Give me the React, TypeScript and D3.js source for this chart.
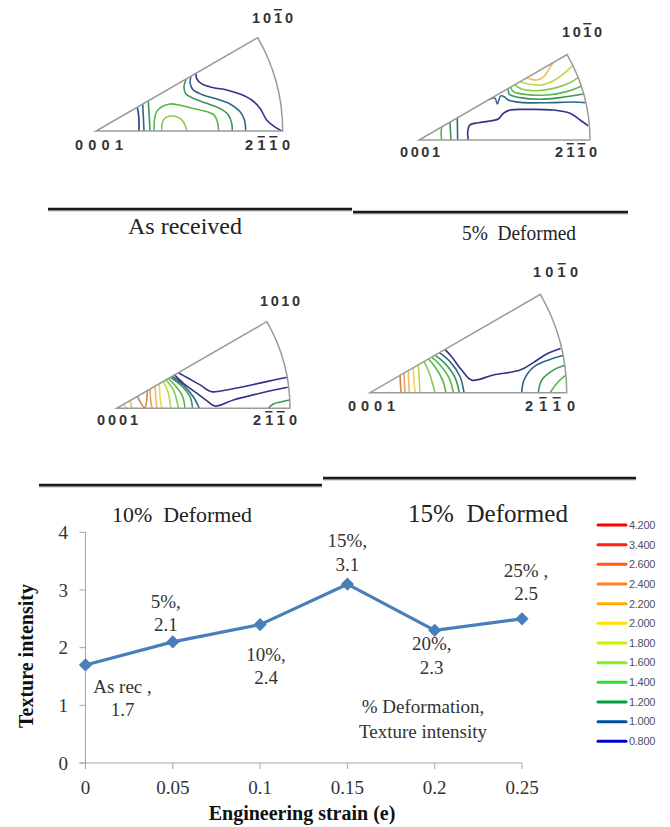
import React from 'react';
import * as d3 from 'd3';

// ---------- chart data ----------
const strain = [0, 0.05, 0.1, 0.15, 0.2, 0.25];
const intensity = [1.7, 2.1, 2.4, 3.1, 2.3, 2.5];
const deformationLabels = ['As rec ,', '5%,', '10%,', '15%,', '20%,', '25% ,'];
const valueLabels = ['1.7', '2.1', '2.4', '3.1', '2.3', '2.5'];
const xTicks = [0, 0.05, 0.1, 0.15, 0.2, 0.25];
const xTickLabels = ['0', '0.05', '0.1', '0.15', '0.2', '0.25'];
const yTicks = [0, 1, 2, 3, 4];
const legendLevels = ['4.200', '3.400', '2.600', '2.400', '2.200', '2.000', '1.800', '1.600', '1.400', '1.200', '1.000', '0.800'];
const legendColours = ['#ff0000', '#ff1f10', '#ff5a1a', '#ff8020', '#ffab00', '#ffe000', '#ccf000', '#80f020', '#30e030', '#00a040', '#0050a0', '#0000c8'];
const captions = ['As received', '5%  Deformed', '10%  Deformed', '15%  Deformed'];

// ---------- inverse pole figure contour data (u,v in % of radius) ----------
type Contour = { level: number; pts: [number, number][] };

const asReceivedContours: Contour[] = [
  { level: 0.8, pts: [[22.1, 12.8], [22.9, 7.7], [23, 0]] },
  { level: 1.0, pts: [[25, 14.4], [25.4, 7], [25.7, 0]] },
  { level: 1.2, pts: [[28, 16.2], [28.5, 8], [28.9, 0]] },
  { level: 1.6, pts: [[35.2, 0], [35.7, 5], [37.5, 7.3], [41.4, 8], [45, 6.8], [47.3, 4.1], [48.6, 0]] },
  { level: 1.4, pts: [[31.1, 0], [31.3, 5.9], [32.5, 10.4], [35.2, 13], [39.6, 14.5], [45, 13.8], [52.1, 12.1], [59.3, 10.4], [63.2, 8.6], [65, 5], [65.7, 0]] },
  { level: 1.2, pts: [[48.4, 28], [47.1, 23.4], [48.2, 19.8], [52.1, 17.5], [59.3, 14.8], [66.4, 12.1], [70.9, 8.6], [72.7, 4.1], [73, 0]] },
  { level: 1.0, pts: [[50.9, 29.4], [50.4, 25.9], [51.8, 22.3], [56.6, 19.6], [64.6, 17.1], [71.8, 14.5], [77.1, 10.4], [79.5, 5.9], [80.2, 0]] },
  { level: 0.8, pts: [[53.6, 30.9], [53.9, 28.2], [56.6, 25.2], [62.9, 23.2], [70, 22], [77.1, 19.8], [83.4, 16.6], [87.9, 12.1], [91.4, 5.9], [95, 2.7], [99.5, 0]] },
];

const deformed5Contours: Contour[] = [
  { level: 2.2, pts: [[63, 36.4], [68.8, 35.1], [73.1, 37], [76.2, 41.9], [78.6, 45.4]] },
  { level: 1.8, pts: [[59.1, 34.1], [63.9, 32.7], [71.7, 32.2], [79.5, 35.1], [85.4, 39.4], [90.3, 43.9]] },
  { level: 1.6, pts: [[56.1, 32.4], [59.1, 30.2], [66.9, 28.8], [78.6, 30.2], [88.3, 33.5], [93.2, 36.6]] },
  { level: 1.4, pts: [[53.6, 30.9], [55.2, 28.3], [62, 26.7], [74.7, 26.3], [86.4, 28.3], [95.1, 31.6]] },
  { level: 1.2, pts: [[52.2, 30.1], [52.8, 26.7], [59.1, 24.8], [70.8, 23.8], [82.5, 24.8], [96.1, 26.9]] },
  { level: 1.0, pts: [[41.1, 23.7], [44.4, 24.5], [45.8, 21.1], [47.8, 25.8], [50, 25.2], [52.2, 23.4], [59.1, 22], [74.7, 21.8], [90.3, 22.2], [98, 21.8]] },
  { level: 0.8, pts: [[28.8, 0], [28.5, 4.9], [29.8, 8.8], [34.7, 10.1], [41.5, 11.1], [46.4, 12.3], [49.3, 15.6], [53.2, 17.5], [63, 17.9], [78.6, 17.5], [88.3, 15.6], [94.2, 11.7], [99, 8.2]] },
  { level: 1.4, pts: [[13.3, 7.7], [12.9, 3.9], [13.3, 0]] },
  { level: 1.2, pts: [[18.1, 10.4], [18.4, 5], [18.7, 0]] },
  { level: 1.0, pts: [[22.4, 12.9], [22.5, 6], [22.6, 0]] },
];

const deformed10Contours: Contour[] = [
  { level: 2.0, pts: [[4.2, 2.4], [5.4, 0]] },
  { level: 2.2, pts: [[7.7, 4.4], [8.7, 0]] },
  { level: 2.6, pts: [[11.9, 6.9], [16.2, 0.4], [17.7, 10.2]] },
  { level: 2.4, pts: [[19.2, 11.1], [19.6, 4.8], [20.4, 0]] },
  { level: 2.2, pts: [[22.1, 12.8], [22.6, 6], [23.1, 0]] },
  { level: 2.0, pts: [[24.6, 14.2], [25, 6.7], [26, 0]] },
  { level: 1.8, pts: [[26.9, 15.5], [29.8, 8.7], [31.2, 0]] },
  { level: 1.6, pts: [[28.5, 16.4], [32.7, 10.6], [34.6, 4.8], [35.6, 0]] },
  { level: 1.4, pts: [[29.8, 17.2], [34.6, 12.1], [38.1, 6.7], [39.4, 0]] },
  { level: 1.2, pts: [[31, 17.9], [37.5, 12.9], [42.3, 6.7], [43.8, 0]] },
  { level: 1.0, pts: [[32, 18.5], [38.5, 13.3], [44.2, 6.7], [47.7, 0]] },
  { level: 0.8, pts: [[35.6, 20.5], [41.3, 17.3], [48.1, 13.5], [54.8, 9.6], [63.5, 10.6], [75, 12.9], [86.5, 15.4], [98.5, 17.9]] },
  { level: 0.8, pts: [[33.4, 19.3], [38.5, 14.4], [46.2, 8.7], [51.9, 4.4], [56.7, 1.3], [67.3, 4.8], [82.7, 8.7], [98.7, 12.1]] },
  { level: 1.2, pts: [[87.5, 0], [90.4, 2.5], [95.2, 3.8], [99.6, 4.8]] },
];

const deformed15Contours: Contour[] = [
  { level: 2.6, pts: [[15.3, 8.8], [15.5, 4], [15.8, 0]] },
  { level: 2.4, pts: [[17.3, 10], [17.5, 5], [17.8, 0]] },
  { level: 2.2, pts: [[19.5, 11.3], [19.7, 5], [20, 0]] },
  { level: 2.0, pts: [[22, 12.7], [22.4, 6], [22.9, 0]] },
  { level: 1.8, pts: [[24.6, 14.2], [25, 7], [25.4, 0]] },
  { level: 1.6, pts: [[27.5, 15.9], [30.5, 9], [33, 0]] },
  { level: 1.4, pts: [[29.7, 17.1], [33, 13.2], [36.9, 6.4], [38.6, 0]] },
  { level: 1.4, pts: [[31.4, 18.1], [35.6, 14.1], [40.3, 7.3], [42.4, 0]] },
  { level: 1.2, pts: [[33, 19.1], [38.1, 14.9], [43.2, 7.8], [45.4, 0]] },
  { level: 1.0, pts: [[35.3, 20.4], [40.7, 15.8], [45.8, 8.1], [47.8, 0]] },
  { level: 0.8, pts: [[38.1, 22], [41.5, 18.3], [46.6, 11.5], [51.7, 6.4], [62.7, 9], [76.3, 11.5], [83, 15.3], [89.8, 19.7], [96.9, 22.5]] },
  { level: 1.0, pts: [[77.1, 0], [78.3, 6.4], [83, 12.9], [91.5, 16.9], [98.3, 19]] },
  { level: 1.2, pts: [[85.6, 0], [87.3, 6.4], [93.2, 11.5], [99.2, 13.9]] },
  { level: 1.4, pts: [[91.5, 0], [95.3, 5.1], [99.7, 9]] },
];

// ---------- styling / layout ----------
const contourLevels = [0.8, 1.0, 1.2, 1.4, 1.6, 1.8, 2.0, 2.2, 2.4, 2.6, 3.4];
const contourColours = ['#33338a', '#2f6688', '#3a9656', '#55b847', '#8acb4e', '#c2d64c', '#ecd560', '#efbd5c', '#eba062', '#d5824c', '#b9643a'];
const contourColour = d3.scaleOrdinal<number, string>().domain(contourLevels).range(contourColours);

type Lbl = { x: number; y: number; w: number };
type Panel = {
  ox: number; oy: number; R: number; contours: Contour[];
  top: Lbl; left: Lbl; right: Lbl; bars: boolean;
};

const panels: Panel[] = [
  { ox: 96, oy: 131, R: 186.7, contours: asReceivedContours, top: { x: 252, y: 23, w: 41 }, left: { x: 75, y: 150, w: 48 }, right: { x: 245, y: 150, w: 45 }, bars: true },
  { ox: 419, oy: 140, R: 171, contours: deformed5Contours, top: { x: 562, y: 37, w: 40 }, left: { x: 400, y: 157, w: 40 }, right: { x: 555, y: 157, w: 42 }, bars: true },
  { ox: 116.7, oy: 408.3, R: 173.3, contours: deformed10Contours, top: { x: 260, y: 306, w: 40 }, left: { x: 97, y: 425, w: 41 }, right: { x: 253, y: 425, w: 44 }, bars: false },
  { ox: 370, oy: 392.7, R: 196.7, contours: deformed15Contours, top: { x: 533, y: 277, w: 45 }, left: { x: 348, y: 411, w: 47 }, right: { x: 525, y: 411, w: 50 }, bars: true },
];

const captionLayout = [
  { x: 128, y: 234, w: 114, size: 23 },
  { x: 462, y: 240, w: 114, size: 20 },
  { x: 112, y: 522, w: 140, size: 22 },
  { x: 408, y: 522, w: 160, size: 25 },
];
const ruleLayout = [
  { x1: 48, x2: 352, y: 209 },
  { x1: 353, x2: 628, y: 212 },
  { x1: 39, x2: 322, y: 485 },
  { x1: 323, x2: 636, y: 478 },
];

const labelOffsets = [
  { dx: 37, dy: 28 },
  { dx: -7, dy: -34 },
  { dx: 6, dy: 36 },
  { dx: 0, dy: -37 },
  { dx: -3, dy: 20 },
  { dx: 4, dy: -42 },
];

const SERIF = '"Liberation Serif", "Times New Roman", serif';
const SANS = '"Liberation Sans", Arial, sans-serif';

function IPF({ p, idx }: { p: Panel; idx: number }) {
  const xs = d3.scaleLinear().domain([0, 100]).range([p.ox, p.ox + p.R]);
  const ys = d3.scaleLinear().domain([0, 100]).range([p.oy, p.oy - p.R]);
  const a = Math.PI / 6;
  const tx = p.ox + p.R * Math.cos(a);
  const ty = p.oy - p.R * Math.sin(a);
  const outline = `M${p.ox},${p.oy} L${p.ox + p.R},${p.oy} A${p.R},${p.R} 0 0 0 ${tx},${ty} Z`;
  const line = d3
    .line<[number, number]>()
    .x((d) => xs(d[0]))
    .y((d) => ys(d[1]))
    .curve(d3.curveCatmullRom.alpha(0.5));
  const clipId = `ipfclip${idx}`;
  const labelStyle = { fontFamily: SANS, fontWeight: 700, fontSize: 14.5, fill: '#333' } as const;
  const bar = { textDecoration: 'overline', textDecorationColor: '#aaa' } as any;
  return (
    <g>
      <defs>
        <clipPath id={clipId}>
          <path d={outline} />
        </clipPath>
      </defs>
      <g clipPath={`url(#${clipId})`}>
        {p.contours.map((c, i) => (
          <path key={i} d={line(c.pts) || ''} fill="none" stroke={contourColour(c.level)} strokeWidth={1.6} />
        ))}
      </g>
      <path d={outline} fill="none" stroke="#9a9a9a" strokeWidth={1.5} />
      <text x={p.top.x} y={p.top.y} textLength={p.top.w} lengthAdjust="spacing" style={labelStyle}>
        10{p.bars ? <tspan style={bar}>1</tspan> : '1'}0
      </text>
      <text x={p.left.x} y={p.left.y} textLength={p.left.w} lengthAdjust="spacing" style={labelStyle}>
        0001
      </text>
      <text x={p.right.x} y={p.right.y} textLength={p.right.w} lengthAdjust="spacing" style={labelStyle}>
        2<tspan style={bar}>11</tspan>0
      </text>
    </g>
  );
}

export default function App() {
  const x = d3.scaleLinear().domain([0, 0.25]).range([85.5, 522]);
  const y = d3.scaleLinear().domain([0, 4]).range([763, 532.3]);
  const pts = strain.map((s, i) => [x(s), y(intensity[i])] as [number, number]);
  const linePath = d3.line()(pts) || '';
  const diamond = d3.symbol(d3.symbolSquare, 88)() || '';
  const legendY = d3.scaleLinear().domain([0, legendLevels.length - 1]).range([525, 741.3]);

  return (
    <svg
      width={670}
      height={827}
      viewBox="0 0 670 827"
      style={{ position: 'absolute', left: 0, top: 0, background: '#fff' }}
    >
      <rect x={0} y={0} width={670} height={827} fill="#fff" />

      {panels.map((p, i) => (
        <IPF key={i} p={p} idx={i} />
      ))}

      {ruleLayout.map((r, i) => (
        <g key={i}>
          <line x1={r.x1} x2={r.x2} y1={r.y + 1.8} y2={r.y + 1.8} stroke="#8a8a8a" strokeWidth={1} />
          <line x1={r.x1} x2={r.x2} y1={r.y} y2={r.y} stroke="#1a1a1a" strokeWidth={2.6} />
        </g>
      ))}

      {captions.map((c, i) => (
        <text
          key={i}
          x={captionLayout[i].x}
          y={captionLayout[i].y}
          textLength={captionLayout[i].w}
          lengthAdjust="spacingAndGlyphs"
          style={{ fontFamily: SERIF, fontSize: captionLayout[i].size, fill: '#222', whiteSpace: 'pre' }}
        >
          {c}
        </text>
      ))}

      {/* axes */}
      <line x1={x(0)} x2={x(0)} y1={y(0)} y2={y(4)} stroke="#a6a6a6" strokeWidth={1} />
      <line x1={x(0) - 6} x2={x(0.25)} y1={y(0)} y2={y(0)} stroke="#a6a6a6" strokeWidth={1} />
      {yTicks.map((t) => (
        <g key={t}>
          <line x1={x(0) - 6} x2={x(0)} y1={y(t)} y2={y(t)} stroke="#a6a6a6" />
          <text
            x={68}
            y={y(t)}
            dy="0.35em"
            textAnchor="end"
            style={{ fontFamily: SERIF, fontSize: 19, fill: '#333' }}
          >
            {t}
          </text>
        </g>
      ))}
      {xTicks.map((t, i) => (
        <g key={t}>
          <line x1={x(t)} x2={x(t)} y1={y(0)} y2={y(0) + 6} stroke="#a6a6a6" />
          <text
            x={x(t)}
            y={794}
            textAnchor="middle"
            style={{ fontFamily: SERIF, fontSize: 19, fill: '#333' }}
          >
            {xTickLabels[i]}
          </text>
        </g>
      ))}
      <text
        x={302}
        y={820}
        textAnchor="middle"
        style={{ fontFamily: SERIF, fontSize: 20, fontWeight: 700, fill: '#111' }}
      >
        Engineering strain (e)
      </text>
      <text
        transform={`translate(33, 656) rotate(-90)`}
        textAnchor="middle"
        style={{ fontFamily: SERIF, fontSize: 20, fontWeight: 700, fill: '#111' }}
      >
        Texture intensity
      </text>

      {/* series */}
      <path d={linePath} fill="none" stroke="#4a7ebb" strokeWidth={3.2} strokeLinejoin="round" />
      {pts.map((p, i) => (
        <path key={i} d={diamond} transform={`translate(${p[0]},${p[1]}) rotate(45)`} fill="#4a7ebb" />
      ))}
      {pts.map((p, i) => {
        const o = labelOffsets[i];
        return (
          <text
            key={i}
            textAnchor="middle"
            style={{ fontFamily: SERIF, fontSize: 19, fill: '#333', whiteSpace: 'pre' }}
          >
            <tspan x={p[0] + o.dx} y={p[1] + o.dy}>
              {deformationLabels[i]}
            </tspan>
            <tspan x={p[0] + o.dx} y={p[1] + o.dy + 23.5}>
              {valueLabels[i]}
            </tspan>
          </text>
        );
      })}
      <text textAnchor="middle" style={{ fontFamily: SERIF, fontSize: 19, fill: '#333' }}>
        <tspan x={423} y={713}>% Deformation,</tspan>
        <tspan x={423} y={738}>Texture intensity</tspan>
      </text>

      {/* legend */}
      {legendLevels.map((l, i) => (
        <g key={l}>
          <line
            x1={598}
            x2={626}
            y1={legendY(i)}
            y2={legendY(i)}
            stroke={legendColours[i]}
            strokeWidth={3}
            strokeLinecap="round"
          />
          <text
            x={629}
            y={legendY(i)}
            dy="0.35em"
            style={{ fontFamily: SANS, fontSize: 11, fill: '#505060', letterSpacing: '-0.3px' }}
          >
            {l}
          </text>
        </g>
      ))}
    </svg>
  );
}
